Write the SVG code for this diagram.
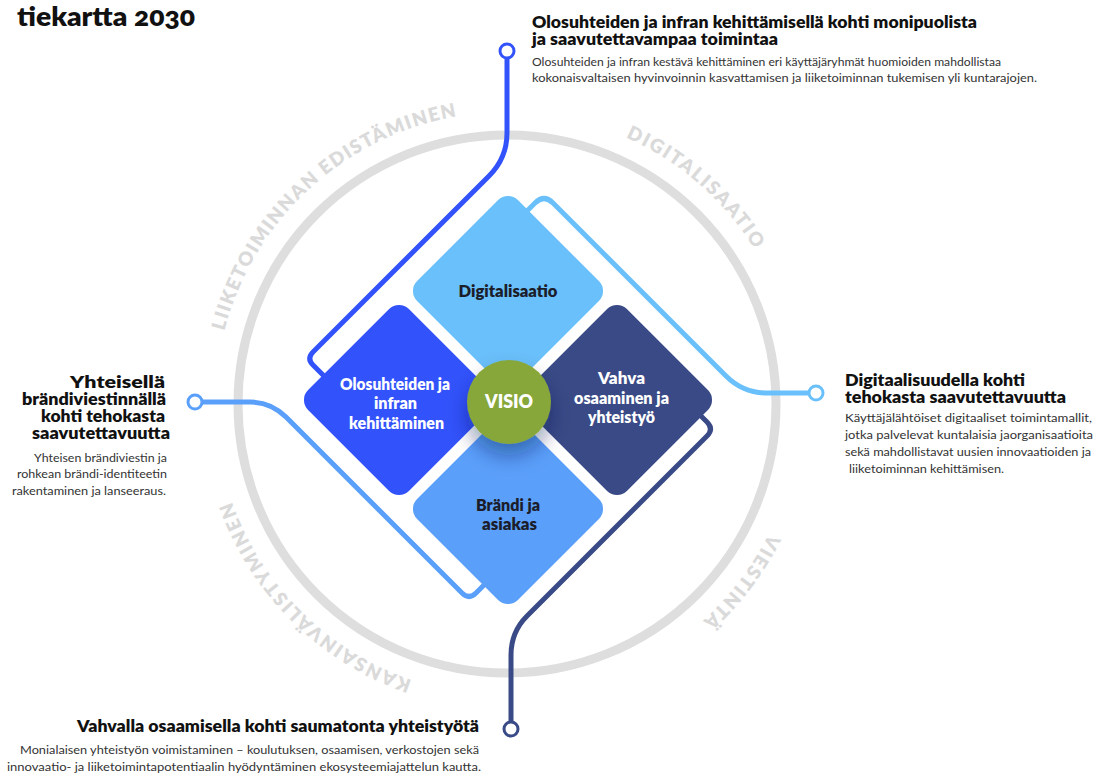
<svg xmlns="http://www.w3.org/2000/svg" width="1098" height="774" viewBox="0 0 1098 774">
<style>
  text { font-family: Lato, "Open Sans", "Liberation Sans", sans-serif; }
  .h { font-size: 17px; font-weight: 800; fill: #111; }
  .b { font-size: 12px; font-weight: 400; fill: #333; }
  .ring-t { font-size: 19px; font-weight: 800; fill: #dadada; }
  .dt { font-size: 16px; font-weight: 800; text-anchor: middle; }
  .dark { fill: #1b1d2a; }
  .light { fill: #ffffff; }
  .conn { fill: none; stroke-width: 5; stroke-linecap: round; stroke-linejoin: round; }
  .dot { fill: #fff; stroke-width: 3; }
</style>
<defs>
  <filter id="shadow" x="-60%" y="-60%" width="220%" height="240%">
    <feDropShadow dx="0" dy="12" stdDeviation="10" flood-color="#0a1a50" flood-opacity="0.4"/>
  </filter>
  <path id="arc1" d="M224.3,330.9 A292,292 0 0 1 481.5,113.1"/>
  <path id="arc2" d="M625.8,137.3 A292,292 0 0 1 767.2,271.4"/>
  <path id="arc3" d="M768.8,533.4 A292,292 0 0 1 682.7,637.2"/>
  <path id="arc4" d="M411.9,680.1 A292,292 0 0 1 223.7,474.6"/>
</defs>
<rect width="1098" height="774" fill="#fff"/>

<text x="17" y="26" font-size="26" font-weight="800" fill="#111" style="font-variant-numeric: oldstyle-nums" textLength="178" lengthAdjust="spacingAndGlyphs">tiekartta 2030</text>

<g id="ring">
  <circle cx="507" cy="404" r="269" fill="none" stroke="#dedede" stroke-width="9"/>
  <text class="ring-t"><textPath href="#arc1" textLength="334" lengthAdjust="spacing">LIIKETOIMINNAN EDISTÄMINEN</textPath></text>
  <text class="ring-t"><textPath href="#arc2" textLength="173" lengthAdjust="spacing">DIGITALISAATIO</textPath></text>
  <text class="ring-t"><textPath href="#arc3" textLength="110" lengthAdjust="spacing">VIESTINTÄ</textPath></text>
  <text class="ring-t"><textPath href="#arc4" textLength="262" lengthAdjust="spacing">KANSAINVÄLISTYMINEN</textPath></text>
</g>

<g id="connectors">
  <path class="conn" stroke="#3253fb" d="M507,58 V133 Q507,158 489,176 L313,352 Q306.5,358.5 313,365 L345,397"/>
  <path class="conn" stroke="#6ac0fb" d="M512,226 L535,203 Q544,194 553,203 L726,376 Q743,393 767,393 L809,393"/>
  <path class="conn" stroke="#5a9ffa" d="M202,402 L250,402 Q271,402 286,417 L462,593 Q469,600 476,593 L500,569"/>
  <path class="conn" stroke="#394a86" d="M511,722 V655 Q511,632 527,616 L707,436 Q714,429 707,422 L690,405"/>
  <circle class="dot" cx="507" cy="51" r="7" stroke="#3253fb"/>
  <circle class="dot" cx="816" cy="393" r="7" stroke="#6ac0fb"/>
  <circle class="dot" cx="195" cy="402" r="7" stroke="#5a9ffa"/>
  <circle class="dot" cx="511" cy="729" r="7" stroke="#394a86"/>
</g>

<g id="node-digitalisaatio">
  <rect x="436.7" y="219.7" width="142.6" height="142.6" rx="14" fill="#6ac0fb" transform="rotate(45 508 291)"/>
  <text class="dt dark" x="508" y="297" textLength="99" lengthAdjust="spacingAndGlyphs">Digitalisaatio</text>
</g>
<g id="node-olosuhteet">
  <rect x="327.7" y="328.7" width="142.6" height="142.6" rx="14" fill="#3253fb" transform="rotate(45 399 400)"/>
  <text class="dt light" x="395" y="390" textLength="110" lengthAdjust="spacingAndGlyphs">Olosuhteiden ja</text>
  <text class="dt light" x="395.5" y="409" textLength="43" lengthAdjust="spacingAndGlyphs">infran</text>
  <text class="dt light" x="396.5" y="429" textLength="95" lengthAdjust="spacingAndGlyphs">kehittäminen</text>
</g>
<g id="node-vahva">
  <rect x="545.7" y="328.7" width="142.6" height="142.6" rx="14" fill="#394a86" transform="rotate(45 617 400)"/>
  <text class="dt light" x="621.5" y="384" textLength="47" lengthAdjust="spacingAndGlyphs">Vahva</text>
  <text class="dt light" x="621.5" y="404" textLength="95" lengthAdjust="spacingAndGlyphs">osaaminen ja</text>
  <text class="dt light" x="621.5" y="423" textLength="67" lengthAdjust="spacingAndGlyphs">yhteistyö</text>
</g>
<g id="node-brandi">
  <rect x="436.7" y="437.7" width="142.6" height="142.6" rx="14" fill="#5a9ffa" transform="rotate(45 508 509)"/>
  <text class="dt dark" x="508" y="511" textLength="64" lengthAdjust="spacingAndGlyphs">Brändi ja</text>
  <text class="dt dark" x="509.5" y="530" textLength="55" lengthAdjust="spacingAndGlyphs">asiakas</text>
</g>
<g id="node-visio">
  <circle cx="509" cy="402" r="42" fill="#87a73a" filter="url(#shadow)"/>
  <text x="509" y="408" font-size="18" font-weight="800" fill="#fff" text-anchor="middle" textLength="48" lengthAdjust="spacingAndGlyphs">VISIO</text>
</g>

<g id="label-top">
  <text class="h" x="532" y="28" textLength="445" lengthAdjust="spacingAndGlyphs">Olosuhteiden ja infran kehittämisellä kohti monipuolista</text>
  <text class="h" x="532" y="45" textLength="246" lengthAdjust="spacingAndGlyphs">ja saavutettavampaa toimintaa</text>
  <text class="b" x="532" y="66" textLength="469" lengthAdjust="spacingAndGlyphs">Olosuhteiden ja infran kestävä kehittäminen eri käyttäjäryhmät huomioiden mahdollistaa</text>
  <text class="b" x="532" y="82" textLength="505" lengthAdjust="spacingAndGlyphs">kokonaisvaltaisen hyvinvoinnin kasvattamisen ja liiketoiminnan tukemisen yli kuntarajojen.</text>
</g>

<g id="label-left" text-anchor="end">
  <text class="h" x="165" y="388" textLength="95" lengthAdjust="spacingAndGlyphs">Yhteisellä</text>
  <text class="h" x="166" y="405" textLength="144" lengthAdjust="spacingAndGlyphs">brändiviestinnällä</text>
  <text class="h" x="165" y="422" textLength="124" lengthAdjust="spacingAndGlyphs">kohti tehokasta</text>
  <text class="h" x="170" y="439" textLength="138" lengthAdjust="spacingAndGlyphs">saavutettavuutta</text>
  <text class="b" x="167" y="462" textLength="133" lengthAdjust="spacingAndGlyphs">Yhteisen brändiviestin ja</text>
  <text class="b" x="167" y="478" textLength="150" lengthAdjust="spacingAndGlyphs">rohkean brändi-identiteetin</text>
  <text class="b" x="166" y="495" textLength="154" lengthAdjust="spacingAndGlyphs">rakentaminen ja lanseeraus.</text>
</g>

<g id="label-right">
  <text class="h" x="845" y="386" textLength="180" lengthAdjust="spacingAndGlyphs">Digitaalisuudella kohti</text>
  <text class="h" x="845" y="403" textLength="221" lengthAdjust="spacingAndGlyphs">tehokasta saavutettavuutta</text>
  <text class="b" x="845" y="422" textLength="247" lengthAdjust="spacingAndGlyphs">Käyttäjälähtöiset digitaaliset toimintamallit,</text>
  <text class="b" x="845" y="439" textLength="248" lengthAdjust="spacingAndGlyphs">jotka palvelevat kuntalaisia jaorganisaatioita</text>
  <text class="b" x="845" y="456" textLength="246" lengthAdjust="spacingAndGlyphs">sekä mahdollistavat uusien innovaatioiden ja</text>
  <text class="b" x="849" y="473" textLength="155" lengthAdjust="spacingAndGlyphs">liiketoiminnan kehittämisen.</text>
</g>

<g id="label-bottom" text-anchor="end">
  <text class="h" x="479" y="732" textLength="402" lengthAdjust="spacingAndGlyphs">Vahvalla osaamisella kohti saumatonta yhteistyötä</text>
  <text class="b" x="479" y="754" textLength="459" lengthAdjust="spacingAndGlyphs">Monialaisen yhteistyön voimistaminen – koulutuksen, osaamisen, verkostojen sekä</text>
  <text class="b" x="481" y="771" textLength="474" lengthAdjust="spacingAndGlyphs">innovaatio- ja liiketoimintapotentiaalin hyödyntäminen ekosysteemiajattelun kautta.</text>
</g>
</svg>
